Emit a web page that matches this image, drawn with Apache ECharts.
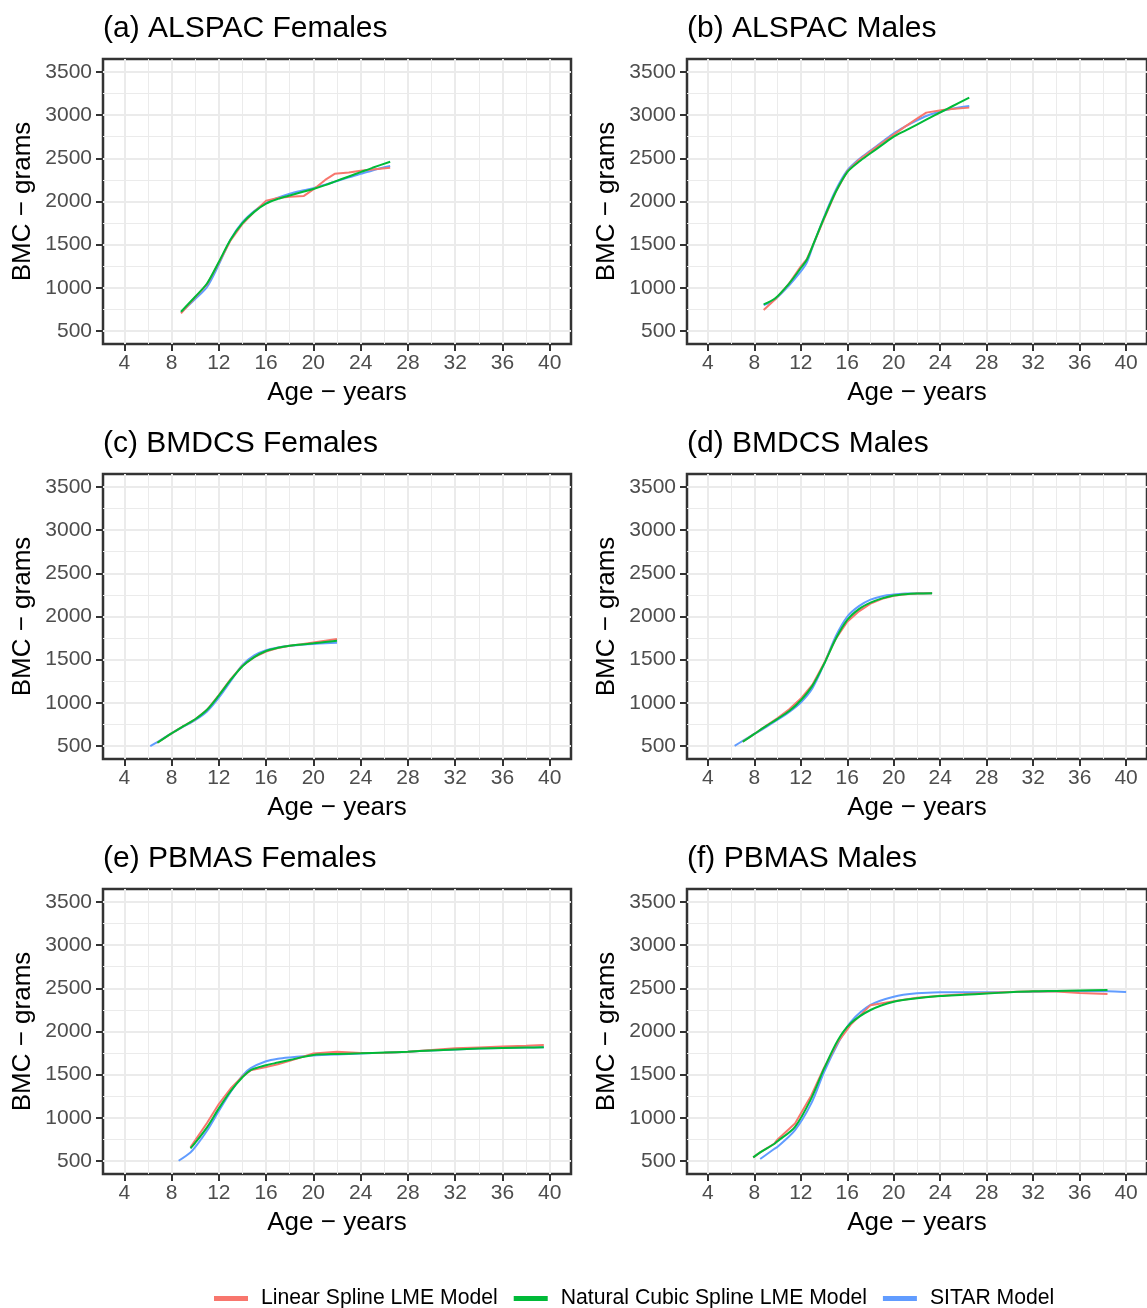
<!DOCTYPE html>
<html>
<head>
<meta charset="utf-8">
<script src="https://cdn.jsdelivr.net/npm/echarts@6/dist/echarts.min.js"></script>
<style>
  html, body { margin: 0; padding: 0; background: #fff; }
  #chart { width: 1147px; height: 1308px; }
</style>
</head>
<body>
<div id="chart"></div>
<script>
// ages (years) and BMC (grams)
var agesA = [8.8, 10, 11, 12, 13, 14, 15, 16, 17, 18, 19.2, 20, 21, 21.8, 23, 24, 25, 26.5];
var linA  = [705, 890, 1040, 1290, 1550, 1740, 1880, 2010, 2040, 2055, 2065, 2140, 2250, 2320, 2335, 2355, 2370, 2390];
var ncsA  = [724, 897, 1050, 1300, 1560, 1750, 1880, 1975, 2030, 2070, 2115, 2145, 2190, 2230, 2290, 2340, 2390, 2461];
var sitA  = [715, 870, 1010, 1270, 1560, 1760, 1890, 1985, 2045, 2090, 2130, 2155, 2195, 2228, 2280, 2320, 2360, 2410];

var agesB = [8.8, 9.8, 11, 12, 12.5, 13, 14, 15, 16, 17, 18, 19, 20, 21, 22, 22.8, 24.2, 25, 26.5];
var linB  = [743, 867, 1052, 1250, 1330, 1480, 1800, 2110, 2350, 2480, 2580, 2680, 2775, 2870, 2960, 3029, 3060, 3070, 3087];
var ncsB  = [809, 880, 1052, 1230, 1322, 1480, 1810, 2110, 2340, 2460, 2558, 2655, 2751, 2821, 2891, 2947, 3045, 3100, 3203];
var sitB  = [800, 870, 1030, 1190, 1290, 1470, 1820, 2130, 2360, 2490, 2590, 2690, 2790, 2870, 2940, 2990, 3050, 3075, 3107];

var agesC = [6.2, 6.8, 8, 9, 10, 11, 12, 13, 14, 15, 16, 17, 18, 19, 20, 21, 22];
var linC  = [null, 538, 647, 730, 810, 920, 1090, 1275, 1430, 1530, 1595, 1635, 1662, 1680, 1700, 1720, 1739];
var ncsC  = [null, 538, 647, 730, 810, 920, 1085, 1265, 1425, 1530, 1600, 1638, 1662, 1676, 1689, 1704, 1719];
var sitC  = [500, 545, 647, 725, 800, 900, 1060, 1250, 1440, 1550, 1610, 1640, 1660, 1672, 1682, 1690, 1696];

var agesD = [6.3, 7, 8, 9, 10, 11, 12, 13, 14, 15, 16, 17, 18, 19, 20, 21, 22, 23.3];
var linD  = [null, 550, 640, 735, 825, 925, 1050, 1210, 1460, 1740, 1940, 2060, 2150, 2205, 2240, 2258, 2266, 2270];
var ncsD  = [null, 550, 640, 730, 815, 905, 1030, 1200, 1450, 1740, 1960, 2085, 2160, 2210, 2243, 2258, 2265, 2269];
var sitD  = [503, 560, 640, 720, 805, 895, 1005, 1170, 1450, 1770, 2000, 2120, 2195, 2235, 2255, 2265, 2268, 2270];

var agesE = [8.6, 9.6, 10, 11, 12, 13, 14, 14.7, 16, 17, 18, 20, 22, 24, 26, 28, 30, 32, 34, 36, 38, 39.5];
var linE  = [null, 660, 740, 940, 1160, 1340, 1480, 1550, 1590, 1620, 1660, 1745, 1766, 1750, 1755, 1766, 1785, 1805, 1815, 1825, 1835, 1844];
var ncsE  = [null, 647, 710, 890, 1110, 1310, 1470, 1554, 1610, 1640, 1670, 1728, 1740, 1747, 1756, 1766, 1780, 1792, 1802, 1809, 1814, 1817];
var sitE  = [503, 600, 660, 850, 1080, 1300, 1490, 1575, 1655, 1685, 1700, 1722, 1735, 1745, 1755, 1766, 1780, 1792, 1802, 1809, 1814, 1817];

var agesF = [7.9, 8.5, 9.7, 10, 11.5, 12.9, 14, 15.2, 16.3, 18, 20, 22, 24, 26, 28, 30, 32, 34, 36, 38.4, 40];
var linF  = [543, 600, 700, 750, 936, 1260, 1580, 1880, 2080, 2305, 2350, 2390, 2415, 2430, 2445, 2458, 2465, 2462, 2445, 2434, null];
var ncsF  = [543, 600, 697, 730, 897, 1226, 1570, 1902, 2095, 2249, 2345, 2385, 2411, 2425, 2440, 2454, 2465, 2470, 2476, 2481, null];
var sitF  = [null, 523, 640, 666, 859, 1168, 1530, 1863, 2110, 2307, 2403, 2442, 2454, 2455, 2455, 2456, 2460, 2466, 2469, 2466, 2458];

var panelTitles = ['(a) ALSPAC Females', '(b) ALSPAC Males', '(c) BMDCS Females',
                   '(d) BMDCS Males', '(e) PBMAS Females', '(f) PBMAS Males'];
var xTicks = [4, 8, 12, 16, 20, 24, 28, 32, 36, 40];
var xMinor = [6, 10, 14, 18, 22, 26, 30, 34, 38];
var yTicks = [500, 1000, 1500, 2000, 2500, 3000, 3500];
var yMinor = [750, 1250, 1750, 2250, 2750, 3250];
var modelNames  = ['Linear Spline LME Model', 'Natural Cubic Spline LME Model', 'SITAR Model'];
var modelColors = ['#F8766D', '#00BA38', '#619CFF'];

var panels = [
  [agesA, linA, ncsA, sitA], [agesB, linB, ncsB, sitB],
  [agesC, linC, ncsC, sitC], [agesD, linD, ncsD, sitD],
  [agesE, linE, ncsE, sitE], [agesF, linF, ncsF, sitF]
];

var FONT = '"Liberation Sans", Arial, sans-serif';
var lefts = [103, 687], tops = [59, 474, 889];
var W = 468, H = 285;
var XMIN = 2.2, XMAX = 41.8, YMIN = 350, YMAX = 3650;

function pairs(ages, vals) {
  var out = [];
  for (var i = 0; i < ages.length; i++) {
    if (vals[i] != null) out.push([ages[i], vals[i]]);
  }
  return out;
}
function plain(v) { return String(v); }

var grids = [], xAxes = [], yAxes = [], titles = [], series = [];

panels.forEach(function (p, i) {
  var col = i % 2, row = Math.floor(i / 2);
  grids.push({
    left: lefts[col], top: tops[row], width: W, height: H,
    show: true, borderWidth: 2.5, borderColor: '#333', backgroundColor: 'transparent'
  });
  titles.push({
    text: panelTitles[i], left: lefts[col], top: tops[row] - 45, padding: 0,
    textStyle: { fontSize: 30, fontWeight: 'normal', color: '#000', fontFamily: FONT }
  });
  // major x
  xAxes.push({
    type: 'value', gridIndex: i, min: XMIN, max: XMAX, position: 'bottom',
    axisLine: { show: false },
    axisTick: { show: true, length: 7, customValues: xTicks, lineStyle: { color: '#333', width: 2 } },
    axisLabel: { customValues: xTicks, margin: 9, color: '#4D4D4D', fontSize: 21, fontFamily: FONT, formatter: plain },
    splitLine: { show: true, lineStyle: { color: '#EBEBEB', width: 2 } },
    name: 'Age − years', nameLocation: 'middle', nameGap: 36,
    nameTextStyle: { fontSize: 26, color: '#000', fontFamily: FONT }
  });
  // minor x grid
  xAxes.push({
    type: 'value', gridIndex: i, min: XMIN, max: XMAX, position: 'top',
    axisLine: { show: false },
    axisTick: { show: false, customValues: xMinor },
    axisLabel: { show: false, customValues: xMinor },
    splitLine: { show: true, lineStyle: { color: '#EBEBEB', width: 1 } }
  });
  yAxes.push({
    type: 'value', gridIndex: i, min: YMIN, max: YMAX, position: 'left',
    axisLine: { show: false },
    axisTick: { show: true, length: 7, customValues: yTicks, lineStyle: { color: '#333', width: 2 } },
    axisLabel: { customValues: yTicks, margin: 11, color: '#4D4D4D', fontSize: 21, fontFamily: FONT, formatter: plain },
    splitLine: { show: true, lineStyle: { color: '#EBEBEB', width: 2 } },
    name: 'BMC − grams', nameLocation: 'middle', nameGap: 67,
    nameTextStyle: { fontSize: 26, color: '#000', fontFamily: FONT }
  });
  yAxes.push({
    type: 'value', gridIndex: i, min: YMIN, max: YMAX, position: 'right',
    axisLine: { show: false },
    axisTick: { show: false, customValues: yMinor },
    axisLabel: { show: false, customValues: yMinor },
    splitLine: { show: true, lineStyle: { color: '#EBEBEB', width: 1 } }
  });

  // draw order: SITAR, linear, natural cubic on top
  [2, 0, 1].forEach(function (m) {
    series.push({
      type: 'line', name: modelNames[m],
      xAxisIndex: 2 * i, yAxisIndex: 2 * i,
      data: pairs(p[0], p[m + 1]),
      showSymbol: false, symbol: 'none',
      smooth: m === 0 ? false : 0.3,
      color: modelColors[m],
      lineStyle: { width: 2, color: modelColors[m] },
      emphasis: { disabled: true },
      silent: true, animation: false
    });
  });
});

var chart = echarts.init(document.getElementById('chart'));
chart.setOption({
  backgroundColor: '#fff',
  animation: false,
  title: titles,
  grid: grids,
  xAxis: xAxes,
  yAxis: yAxes,
  legend: {
    data: modelNames, left: 209, top: 1283,
    icon: 'rect', itemWidth: 34, itemHeight: 5, itemGap: 16,
    textStyle: { fontSize: 21.2, color: '#000', fontFamily: FONT, padding: [0, 0, 0, 8] }
  },
  series: series
});
</script>
</body>
</html>
